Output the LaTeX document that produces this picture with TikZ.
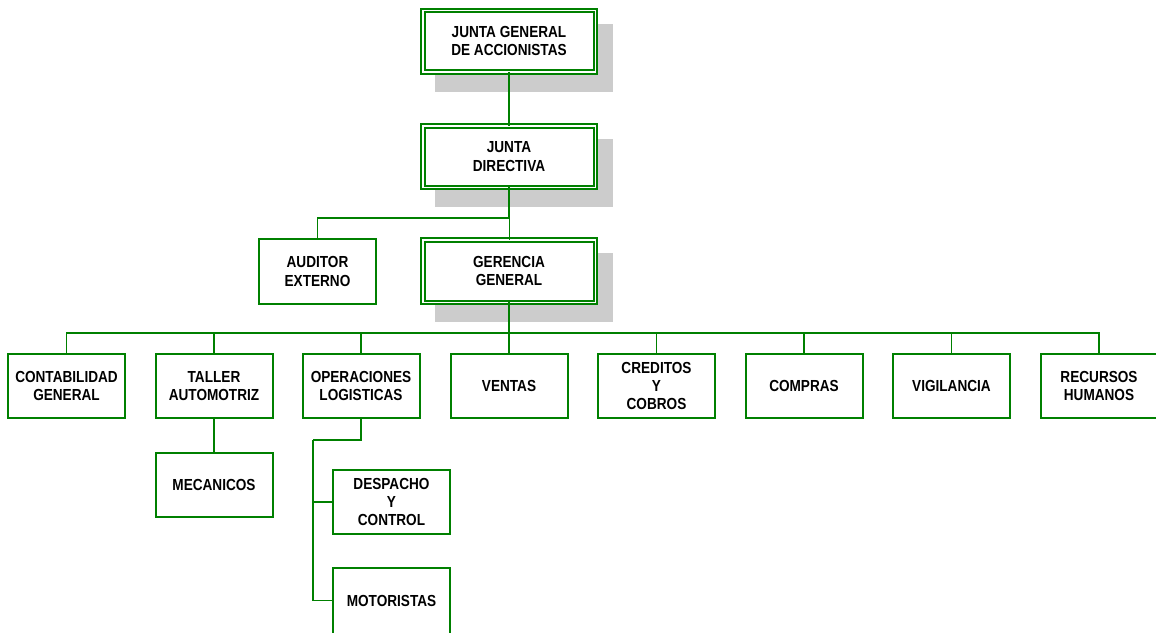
\documentclass[tikz,border=0pt]{standalone}
\usepackage{fontspec}
\setmainfont{Liberation Sans}
\newfontfamily\boxfont[FakeStretch=0.85]{Liberation Sans}
\usetikzlibrary{calc,backgrounds}
\definecolor{orggreen}{RGB}{0,128,0}
\definecolor{shadowgray}{RGB}{204,204,204}
\tikzset{
  unit/.style={draw=orggreen, line width=2pt, fill=white, outer sep=0pt, inner sep=0pt,
    align=center, text=black, minimum width=117pt, minimum height=64pt,
    font=\boxfont\bfseries\fontsize{16}{18.4}\selectfont},
  board/.style={unit, double=white, double distance=1.5pt, line width=2pt,
    minimum width=172.5pt, minimum height=61.5pt},
  link/.style={draw=orggreen, line width=1.8pt},
  thinlink/.style={draw=orggreen, line width=1pt},
  shade/.style={fill=shadowgray, draw=none}
}
\begin{document}
\begin{tikzpicture}[x=1pt,y=-1pt]
\useasboundingbox (0,0) rectangle (1156,632);

% governing boards (double frame with drop shadow)
\node[board] (jga) at (509,41) {JUNTA GENERAL\\DE ACCIONISTAS};
\node[board] (jd) at (509,156.5) {JUNTA\\DIRECTIVA};
\node[board, minimum height=62.5pt] (gg) at (509,271) {GERENCIA\\GENERAL};

\begin{scope}[on background layer]
  \foreach \b in {jga,jd,gg}
    \fill[shade] ($(\b.north west)+(12.25,13.25)$) rectangle ($(\b.south east)+(17.75,19.75)$);
\end{scope}

\node[unit, minimum height=65pt] (aud) at (317.5,271.5) {AUDITOR\\EXTERNO};

% departments
\node[unit] (cont) at (66.5,386) {CONTABILIDAD\\GENERAL};
\node[unit] (tall) at (214,386) {TALLER\\AUTOMOTRIZ};
\node[unit] (ops)  at (361,386) {OPERACIONES\\LOGISTICAS};
\node[unit] (vent) at (509,386) {VENTAS};
\node[unit] (cred) at (656.5,386) {CREDITOS\\Y\\COBROS};
\node[unit] (comp) at (804,386) {COMPRAS};
\node[unit] (vig)  at (951.5,386) {VIGILANCIA};
\node[unit] (rrhh) at (1099,386) {RECURSOS\\HUMANOS};

% sub-units
\node[unit] (mec)  at (214,485) {MECANICOS};
\node[unit] (desp) at (391.5,502) {DESPACHO\\Y\\CONTROL};
\node[unit, minimum height=66pt] (mot) at (391.5,600.5) {MOTORISTAS};

% junction points
\coordinate (j1) at (509,218);
\coordinate (bus) at (509,333);
\coordinate (o1) at (313,440);

% connectors
\draw[link] (jga.south) -- (jd.north);
\draw[link] (jd.south) -- (j1) -| (aud.north);
\draw[thinlink] (j1) -- (gg.north);
\draw[link] (gg.south) -- (bus);
\foreach \d in {cont,tall,ops,vent,cred,comp,vig,rrhh}
  \draw[link] (bus) -| (\d.north);
\draw[link] (tall.south) -- (mec.north);
\draw[link] (ops.south) |- (o1);
\draw[link] (o1) |- (mot.west);
\draw[link] (o1) |- (desp.west);
\end{tikzpicture}
\end{document}
